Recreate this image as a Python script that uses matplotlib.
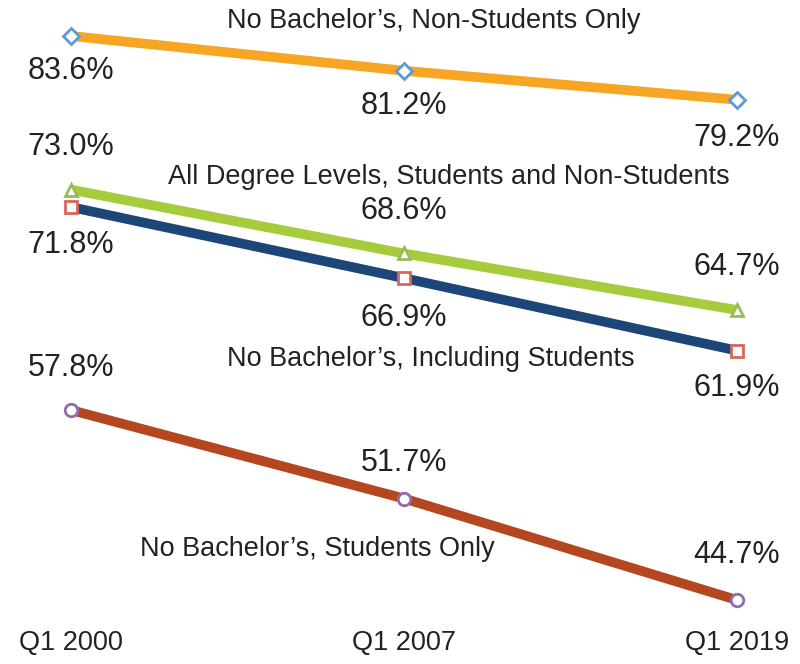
import matplotlib
matplotlib.use("Agg")
from matplotlib import pyplot as plt

plt.rcParams['font.family'] = ['Liberation Sans', 'DejaVu Sans']

quarters = ["Q1 2000", "Q1 2007", "Q1 2019"]
non_students = [83.6, 81.2, 79.2]
all_levels = [73.0, 68.6, 64.7]
incl_students = [71.8, 66.9, 61.9]
students_only = [57.8, 51.7, 44.7]

x = list(range(len(quarters)))

fig = plt.figure(figsize=(8, 6.64), dpi=100)
ax = fig.add_axes([0, 0, 1, 1])
ax.set_xlim(-0.2132, 2.189)
ax.set_ylim(40.29, 86.08)
ax.axis('off')

# line colour, marker, marker edge colour, label offset (px, + = above)
series = [
    (non_students, '#F6A623', 'D', '#5B9BD5', [-35, -35, -38]),
    (all_levels, '#A6CB3C', '^', '#9BBB59', [43, 42, 43]),
    (incl_students, '#1B4677', 's', '#D9665E', [-38, -40, -37]),
    (students_only, '#B4471F', 'o', '#8D6CB0', [42, 36, 45]),
]

for vals, col, mk, mcol, offs in series:
    ax.plot(x, vals, color=col, lw=7, solid_capstyle='butt', zorder=2)
    ax.plot(x, vals, ls='none', marker=mk, ms=9 if mk != 'D' else 8.5,
            mfc='white', mec=mcol, mew=2, zorder=3)
    for xi, v, o in zip(x, vals, offs):
        ax.annotate("{:.1f}%".format(v), (xi, v), xytext=(0, o * 0.72),
                    textcoords='offset points', ha='center', va='center',
                    fontsize=22, color='#222222')

names = [
    ("No Bachelor\u2019s, Non-Students Only", 1.09, 84.6),
    ("All Degree Levels, Students and Non-Students", 1.135, 73.85),
    ("No Bachelor\u2019s, Including Students", 1.08, 61.3),
    ("No Bachelor\u2019s, Students Only", 0.74, 48.2),
]
for txt, tx, ty in names:
    ax.text(tx, ty, txt, ha='center', va='center', fontsize=19.5, color='#222222')

for xi, q in zip(x, quarters):
    ax.text(xi, 41.74, q, ha='center', va='center', fontsize=19.5, color='#222222')

fig.savefig("out.png", dpi=100, facecolor='white')
